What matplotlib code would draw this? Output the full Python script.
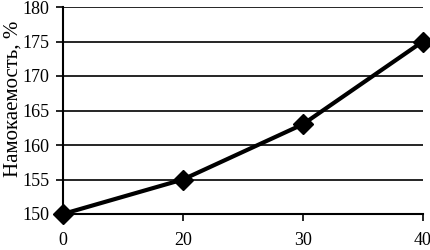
import matplotlib.pyplot as plt

# data
x_labels = ['0', '20', '30', '40']
values = [150, 155, 163, 175]
y_ticks = [150, 155, 160, 165, 170, 175, 180]

plt.rcParams['font.family'] = 'Liberation Serif'
plt.rcParams['font.size'] = 13

fig = plt.figure(figsize=(4.31, 2.5), dpi=100)
ax = fig.add_axes([0.146, 0.144, 0.835, 0.828])

pos = range(len(x_labels))
ax.plot(pos, values, color='black', lw=3, marker='D', ms=10, zorder=3, clip_on=False)

ax.set_xlim(0, len(x_labels) - 1)
ax.set_ylim(150, 180)
ax.set_xticks(list(pos))
ax.set_xticklabels(x_labels)
ax.set_yticks(y_ticks)
ax.yaxis.grid(True, color='black', lw=1.2)
ax.set_axisbelow(True)

for s in ['top', 'right']:
    ax.spines[s].set_visible(False)
ax.spines['left'].set_linewidth(1.5)
ax.spines['bottom'].set_linewidth(1.5)
ax.tick_params(direction='out', length=5, width=1.2, colors='black')
ax.tick_params(axis='x', pad=8)
ax.tick_params(axis='y', pad=5)

ax.set_ylabel('Намокаемость, %', fontsize=15)
ax.yaxis.set_label_coords(-0.113, 0.555)

fig.savefig('out.png', dpi=100)
